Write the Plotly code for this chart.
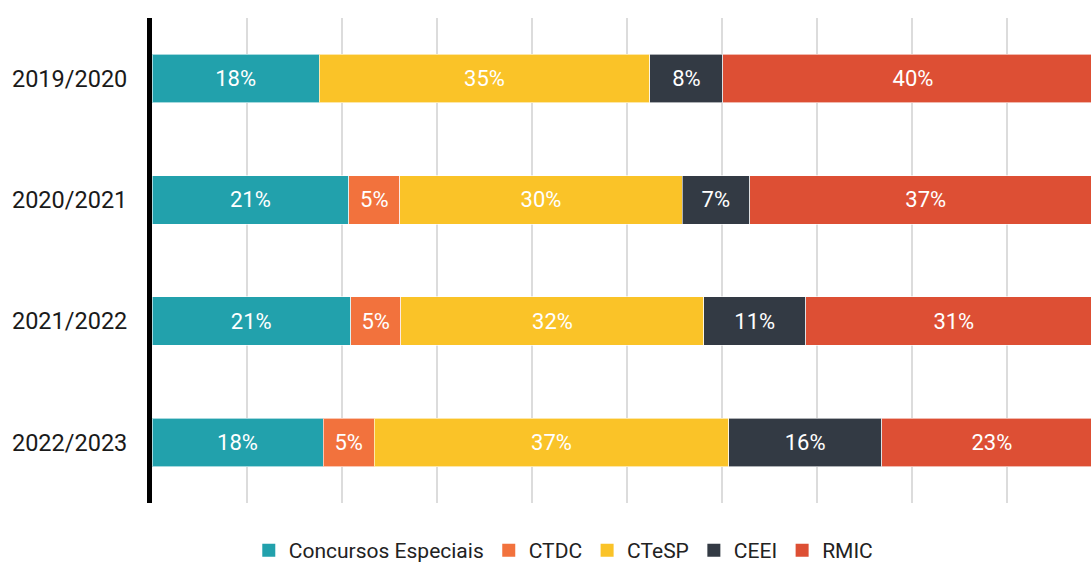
import plotly.graph_objects as go

years = ["2019/2020", "2020/2021", "2021/2022", "2022/2023"]

concursos = [17.6, 20.7, 20.9, 18.0]
ctdc = [0, 5.4, 5.3, 5.4]
ctesp = [34.8, 29.7, 31.9, 37.3]
ceei = [7.7, 7.1, 10.7, 16.1]
rmic = [40.0, 37.1, 31.2, 23.2]

series = [
    ("Concursos Especiais", concursos, "#22A1AC"),
    ("CTDC", ctdc, "#F2723D"),
    ("CTeSP", ctesp, "#FAC328"),
    ("CEEI", ceei, "#333A44"),
    ("RMIC", rmic, "#DD4F34"),
]

fig = go.Figure()
for name, vals, color in series:
    fig.add_trace(go.Bar(
        y=years, x=vals, name=name, orientation="h", showlegend=False,
        marker=dict(color=color, line=dict(color="rgba(255,255,255,0.6)", width=1)),
        text=[f"{round(v)}%" if v else "" for v in vals],
        textposition="inside", insidetextanchor="middle",
        textfont=dict(color="white", size=22),
        hoverinfo="skip",
    ))
# legend entries with bigger square swatches
for name, vals, color in series:
    fig.add_trace(go.Scatter(
        x=[None], y=[None], mode="markers", name=name,
        marker=dict(symbol="square", size=13, color=color),
    ))

# figure is a bit taller than the window so the legend box doesn't squeeze the plot
fig.update_layout(
    barmode="stack",
    bargap=0.6,
    width=1091, height=590,
    margin=dict(l=152, r=0, t=18, b=87),
    plot_bgcolor="white", paper_bgcolor="white",
    font=dict(family="Roboto, sans-serif", color="#1a1a1a"),
    uniformtext=dict(mode="show", minsize=10),
    legend=dict(
        orientation="h", x=0.438, xanchor="center", y=-0.098, yanchor="middle",
        font=dict(size=21, color="#222"), itemwidth=30, traceorder="normal",
    ),
)
fig.update_xaxes(
    range=[0, 98.84], dtick=10, showgrid=True, gridcolor="#dcdcdc", gridwidth=2,
    showticklabels=False, zeroline=False, fixedrange=True,
)
fig.update_yaxes(
    autorange="reversed", showline=True, linecolor="black", linewidth=5,
    tickfont=dict(size=23.5, color="#1a1a1a"), ticklabelstandoff=15,
    showgrid=False, automargin=False,
)

fig.write_html(
    "out.html",
    config={"displayModeBar": False},
    post_script="document.body.style.margin='0';document.documentElement.style.overflow='hidden';",
)
